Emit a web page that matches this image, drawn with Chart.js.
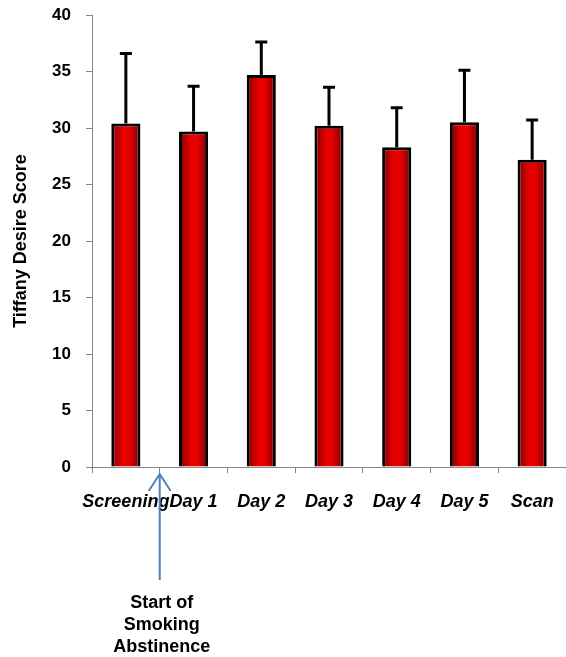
<!DOCTYPE html>
<html>
<head>
<meta charset="utf-8">
<script src="https://cdn.jsdelivr.net/npm/chart.js@4.4.1/dist/chart.umd.min.js"></script>
<style>
  html, body { margin: 0; padding: 0; background: #fff; }
  #wrap { width: 566px; height: 657px; position: relative; }
</style>
</head>
<body>
<div id="wrap"><canvas id="desireChart"></canvas></div>
<script>
// data
const categories = ["Screening", "Day 1", "Day 2", "Day 3", "Day 4", "Day 5", "Scan"];
const desireScores = [30.4, 29.7, 34.7, 30.2, 28.3, 30.5, 27.2];
const errorUpper = [6.2, 4.0, 2.9, 3.4, 3.5, 4.6, 3.5];
const yTicks = [0, 5, 10, 15, 20, 25, 30, 35, 40];
const noteLines = ["Start of", "Smoking", "Abstinence"];
const noteAt = 0.5; // between Screening and Day 1

const FONT = "'Liberation Sans', Arial, sans-serif";

/* ===== bar fill: dark edges, bright centre ===== */
function barFill(context) {
  const chart = context.chart;
  const xs = chart.scales.x;
  if (!xs || !chart.chartArea) return "#d00000";
  const cx = xs.getPixelForValue(context.dataIndex);
  const half = 15;
  const g = chart.ctx.createLinearGradient(cx - half, 0, cx + half, 0);
  g.addColorStop(0, "#780000");
  g.addColorStop(0.4, "#e80000");
  g.addColorStop(0.6, "#e80000");
  g.addColorStop(1, "#780000");
  return g;
}

/* ===== error bars (upper only) ===== */
const errorBars = {
  id: "errorBars",
  afterDatasetsDraw(chart) {
    const { ctx } = chart;
    const ys = chart.scales.y;
    const meta = chart.getDatasetMeta(0);
    ctx.save();
    ctx.strokeStyle = "#000";
    ctx.lineWidth = 3;
    meta.data.forEach((bar, i) => {
      const top = ys.getPixelForValue(desireScores[i] + errorUpper[i]);
      const base = ys.getPixelForValue(desireScores[i]);
      ctx.beginPath();
      ctx.moveTo(bar.x, base);
      ctx.lineTo(bar.x, top);
      ctx.moveTo(bar.x - 6, top);
      ctx.lineTo(bar.x + 6, top);
      ctx.stroke();
    });
    ctx.restore();
  }
};

/* ===== arrow + note under the axis ===== */
const abstinenceNote = {
  id: "abstinenceNote",
  afterDraw(chart) {
    const { ctx, chartArea } = chart;
    const x = chart.scales.x.getPixelForValue(noteAt);
    const tip = chartArea.bottom + 7;
    const tail = chartArea.bottom + 113;
    ctx.save();
    ctx.strokeStyle = "#4f81bd";
    ctx.lineWidth = 2;
    ctx.beginPath();
    ctx.moveTo(x, tail);
    ctx.lineTo(x, tip);
    ctx.moveTo(x - 11, tip + 17);
    ctx.lineTo(x, tip);
    ctx.lineTo(x + 11, tip + 17);
    ctx.stroke();

    ctx.fillStyle = "#000";
    ctx.font = "bold 18px " + FONT;
    ctx.textAlign = "center";
    ctx.textBaseline = "middle";
    noteLines.forEach((line, i) => {
      ctx.fillText(line, x + 2, chartArea.bottom + 136 + i * 22);
    });
    ctx.restore();
  }
};

new Chart(document.getElementById("desireChart"), {
  type: "bar",
  data: {
    labels: categories,
    datasets: [{
      data: desireScores,
      backgroundColor: barFill,
      borderColor: "#000",
      borderWidth: 3,
      categoryPercentage: 1,
      barPercentage: 0.43
    }]
  },
  options: {
    responsive: true,
    maintainAspectRatio: false,
    animation: false,
    layout: { padding: { top: 15, right: 0, bottom: 130, left: 0 } },
    plugins: {
      legend: { display: false },
      tooltip: { enabled: false }
    },
    scales: {
      x: {
        afterFit: s => {
          s.height = 60;
          s.paddingLeft = 0;
          s.paddingRight = 0;
        },
        grid: {
          offset: true,
          drawOnChartArea: false,
          drawTicks: true,
          tickLength: 6,
          color: "#868686"
        },
        border: { display: true, color: "#868686", width: 1 },
        ticks: {
          color: "#000",
          padding: 18,
          maxRotation: 0,
          autoSkip: false,
          font: { family: FONT, size: 18, weight: "bold", style: "italic" }
        }
      },
      y: {
        min: 0,
        max: 40,
        afterFit: s => {
          s.width = 92;
          s.paddingTop = 0;
          s.paddingBottom = 0;
        },
        afterBuildTicks: s => { s.ticks = yTicks.map(v => ({ value: v })); },
        grid: {
          drawOnChartArea: false,
          drawTicks: true,
          tickLength: 6,
          color: "#868686"
        },
        border: { display: true, color: "#868686", width: 1 },
        ticks: {
          color: "#000",
          padding: 15,
          font: { family: FONT, size: 17, weight: "bold" }
        },
        title: {
          display: true,
          text: "Tiffany Desire Score",
          color: "#000",
          padding: { top: 10, bottom: 0 },
          font: { family: FONT, size: 18, weight: "bold" }
        }
      }
    }
  },
  plugins: [errorBars, abstinenceNote]
});
</script>
</body>
</html>
